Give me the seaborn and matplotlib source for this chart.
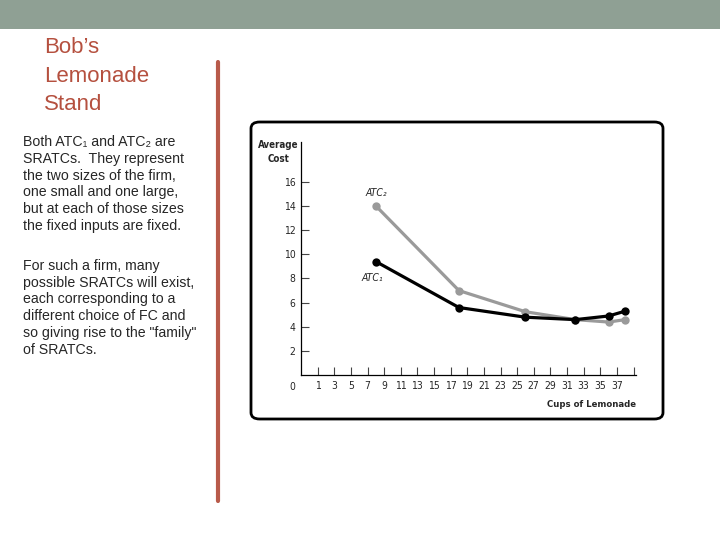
import matplotlib
matplotlib.use("Agg")
import matplotlib.pyplot as plt
import seaborn as sns
import pandas as pd
from matplotlib.patches import FancyBboxPatch, Rectangle

# Données
cups = [8, 18, 26, 32, 36, 38]
atc1 = [9.4, 5.6, 4.8, 4.6, 4.9, 5.3]
atc2 = [14.0, 7.0, 5.25, 4.6, 4.4, 4.6]
x_ticks = list(range(1, 40, 2))
x_labels = [str(v) for v in range(1, 38, 2)] + [""]
y_ticks = [2, 4, 6, 8, 10, 12, 14, 16]

df = pd.DataFrame({"cups": cups + cups,
                   "cost": atc1 + atc2,
                   "curve": ["ATC1"] * len(cups) + ["ATC2"] * len(cups)})

sns.set_style("white")
plt.rcParams['font.family'] = ['Liberation Sans', 'DejaVu Sans']

fig = plt.figure(figsize=(7.2, 5.4), dpi=100)

# bandeau gris en haut
fig.patches.append(Rectangle((0, 1 - 29 / 540), 1, 29 / 540, transform=fig.transFigure,
                             facecolor="#8fa094", edgecolor="none", zorder=-2))
# trait vertical rouge
fig.add_artist(plt.Line2D([218 / 720, 218 / 720], [1 - 62 / 540, 1 - 501 / 540],
                          color="#b85a4a", lw=3, transform=fig.transFigure))

# titre et texte
fig.text(44 / 720, 1 - 37 / 540, "Bob’s\nLemonade\nStand", color="#b5503f", fontsize=16,
         va="top", ha="left", linespacing=1.47)
fig.text(23 / 720, 1 - 135 / 540,
         "Both ATC₁ and ATC₂ are\nSRATCs.  They represent\nthe two sizes of the firm,\n"
         "one small and one large,\nbut at each of those sizes\nthe fixed inputs are fixed.",
         fontsize=10.2, va="top", ha="left", linespacing=1.25, color="#262626")
fig.text(23 / 720, 1 - 259 / 540,
         "For such a firm, many\npossible SRATCs will exist,\neach corresponding to a\n"
         "different choice of FC and\nso giving rise to the \"family\"\nof SRATCs.",
         fontsize=10.2, va="top", ha="left", linespacing=1.25, color="#262626")

# cadre arrondi autour du graphique
fig.patches.append(FancyBboxPatch((251 / 720, 1 - 419 / 540), 412 / 720, 297 / 540,
                                  boxstyle="round,pad=0,rounding_size=0.012",
                                  transform=fig.transFigure, facecolor="white",
                                  edgecolor="black", lw=2, zorder=-1))

ax = fig.add_axes([301 / 720, 1 - 375.3 / 540, 335 / 720, 233.6 / 540])
ax.set_zorder(3)
ax.set_facecolor("none")
sns.lineplot(data=df, x="cups", y="cost", hue="curve",
             palette={"ATC1": "black", "ATC2": "#9a9a9a"},
             hue_order=["ATC2", "ATC1"],
             marker="o", markersize=6, markeredgewidth=0, lw=2.3,
             legend=False, ax=ax)

ax.set_xlim(-1, 39.3)
ax.set_ylim(0, 19.3)
cond = dict(fontstretch="condensed", family="DejaVu Sans")
ax.set_xticks(x_ticks)
ax.set_xticklabels(x_labels, fontsize=7.5, **cond)
ax.set_yticks(y_ticks)
ax.set_yticklabels([str(v) for v in y_ticks], fontsize=7.5, **cond)
ax.tick_params(direction="in", length=6, width=0.8, color="#444444", pad=4,
               bottom=True, left=True)
for s in ["top", "right"]:
    ax.spines[s].set_visible(False)
for s in ["left", "bottom"]:
    ax.spines[s].set_linewidth(0.9)
    ax.spines[s].set_color("black")
ax.set_xlabel("")
ax.set_ylabel("")

ax.text(-2.1, -0.55, "0", fontsize=7.5, ha="center", va="top", **cond)
ax.text(8.1, 15.1, "ATC₂", fontsize=7.5, style="italic", ha="center", va="center", **cond)
ax.text(7.6, 8.0, "ATC₁", fontsize=7.5, style="italic", ha="center", va="center", **cond)
ax.text(-3.7, 19.4, "Average\nCost", fontsize=7, weight="bold", ha="center", va="top",
        linespacing=1.5, **cond)
ax.text(39.3, -2.4, "Cups of Lemonade", fontsize=6.8, weight="bold", ha="right", va="center", **cond)

fig.savefig("out.png", dpi=100)
